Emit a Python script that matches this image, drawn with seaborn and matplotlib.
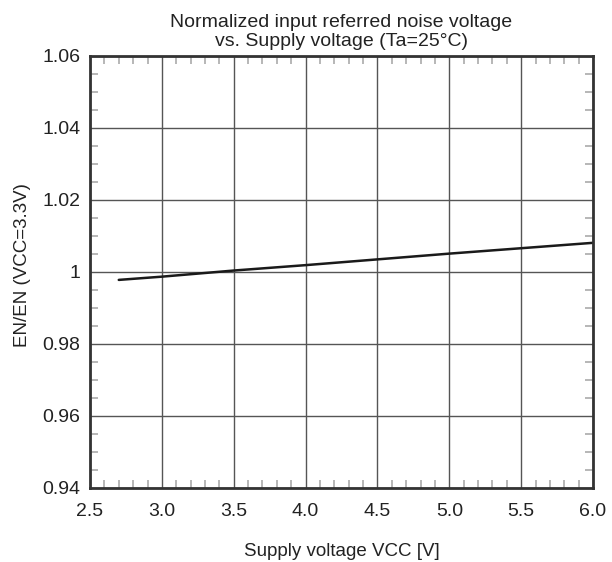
import matplotlib
matplotlib.use("Agg")
import matplotlib.pyplot as plt
from matplotlib.ticker import MultipleLocator
import pandas as pd
import seaborn as sns

# Supply voltage [V] and normalized noise voltage
vcc = [2.7, 3.0, 3.5, 4.0, 4.5, 5.0, 5.5, 6.0]
en_norm = [0.9978, 0.9987, 1.0004, 1.0019, 1.0035, 1.0051, 1.0066, 1.0081]

sns.set_theme(style="white")
plt.rcParams['font.family'] = ['Liberation Sans', 'DejaVu Sans']

df = pd.DataFrame({"Vcc": vcc, "En": en_norm})

fig = plt.figure(figsize=(6.12, 5.62), dpi=100)
ax = fig.add_axes([0.1471, 0.1317, 0.8219, 0.7687])

sns.lineplot(data=df, x="Vcc", y="En", color="#1a1a1a", linewidth=1.8, ax=ax)

ax.set_xlim(2.5, 6.0)
ax.set_ylim(0.94, 1.06)
ax.xaxis.set_major_locator(MultipleLocator(0.5))
ax.xaxis.set_minor_locator(MultipleLocator(0.1))
ax.yaxis.set_major_locator(MultipleLocator(0.02))
ax.yaxis.set_minor_locator(MultipleLocator(0.005))
ax.set_xticklabels([f"{v:.1f}" for v in ax.get_xticks()])
ax.set_yticklabels(["1" if abs(v - 1) < 1e-9 else f"{v:.2f}" for v in ax.get_yticks()])

ax.grid(True, which="major", color="#555555", linewidth=1.0)
ax.tick_params(which="both", direction="in", top=True, right=True,
               bottom=True, left=True, color="#aaaaaa")
ax.tick_params(which="major", length=0, labelsize=14, colors="#222222")
ax.tick_params(axis="x", which="major", pad=11)
ax.tick_params(axis="y", which="major", pad=7)
ax.tick_params(which="minor", length=6, width=1.2)
for s in ax.spines.values():
    s.set_color("#333333")
    s.set_linewidth(2)

ax.set_title("Normalized input referred noise voltage\nvs. Supply voltage (Ta=25°C)",
             fontsize=14, color="#222222", pad=7, linespacing=1.2)
ax.set_xlabel("Supply voltage VCC [V]", fontsize=13.5, color="#222222")
ax.xaxis.set_label_coords(0.5, -0.127)
ax.set_ylabel("EN/EN (VCC=3.3V)", fontsize=13.5, color="#222222")
ax.yaxis.set_label_coords(-0.118, 0.515)

plt.savefig("out.png", dpi=100)
